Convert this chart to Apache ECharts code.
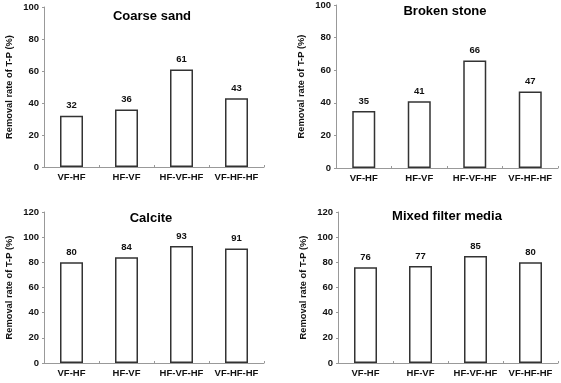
<!DOCTYPE html>
<html>
<head>
<meta charset="utf-8">
<script src="https://cdn.jsdelivr.net/npm/echarts@6/dist/echarts.min.js"></script>
<style>
  html, body { margin: 0; padding: 0; background: #fff; }
  #chart { width: 561px; height: 383px; }
</style>
</head>
<body>
<div id="chart"></div>
<script>
const categories = ['VF-HF', 'HF-VF', 'HF-VF-HF', 'VF-HF-HF'];
const panelTitles = ['Coarse sand', 'Broken stone', 'Calcite', 'Mixed filter media'];
const coarseSand = [32, 36, 61, 43];
const brokenStone = [35, 41, 66, 47];
const calcite = [80, 84, 93, 91];
const mixedMedia = [76, 77, 85, 80];
const yMax = [100, 100, 120, 120];
const yName = 'Removal rate of T-P (%)';

const font = 'Arial, "Liberation Sans", sans-serif';
const values = [coarseSand, brokenStone, calcite, mixedMedia];

// grid boxes for the four panels
const grids = [
  { left: 44, top: 7, width: 220, height: 160 },
  { left: 336, top: 3, width: 222, height: 165 },
  { left: 44, top: 212, width: 220, height: 151 },
  { left: 338, top: 212, width: 220, height: 151 }
];
const titlePos = [[152, 10], [445, 5], [151, 212], [447, 210]];

const chart = echarts.init(document.getElementById('chart'));

chart.setOption({
  animation: false,
  backgroundColor: '#fff',
  title: panelTitles.map((t, i) => ({
    text: t,
    left: titlePos[i][0],
    top: titlePos[i][1],
    textAlign: 'center',
    padding: 0,
    textStyle: { fontFamily: font, fontSize: 13, fontWeight: 'bold', color: '#000' }
  })),
  grid: grids,
  xAxis: grids.map((g, i) => ({
    type: 'category',
    gridIndex: i,
    data: categories,
    axisLine: { lineStyle: { color: '#999', width: 1 } },
    axisTick: { show: true, inside: true, length: 2, lineStyle: { color: '#999' } },
    axisLabel: { fontFamily: font, fontSize: 9.5, fontWeight: 'bold', color: '#111', margin: 5, interval: 0 }
  })),
  yAxis: grids.map((g, i) => ({
    type: 'value',
    gridIndex: i,
    min: 0,
    max: yMax[i],
    interval: 20,
    name: yName,
    nameLocation: 'middle',
    nameRotate: 90,
    nameGap: 30,
    nameTextStyle: { fontFamily: font, fontSize: 9.3, fontWeight: 'bold', color: '#111' },
    splitLine: { show: false },
    axisLine: { show: true, lineStyle: { color: '#999', width: 1 } },
    axisTick: { show: true, length: 2, lineStyle: { color: '#999' } },
    axisLabel: { fontFamily: font, fontSize: 9.5, fontWeight: 'bold', color: '#111', margin: 5 }
  })),
  series: values.map((v, i) => ({
    type: 'bar',
    xAxisIndex: i,
    yAxisIndex: i,
    data: v,
    barWidth: 23,
    itemStyle: { color: '#fff', borderColor: '#333', borderWidth: 1.5 },
    label: {
      show: true,
      position: 'top',
      distance: 5,
      fontFamily: font,
      fontSize: 9.5,
      fontWeight: 'bold',
      color: '#111'
    }
  }))
});
</script>
</body>
</html>
